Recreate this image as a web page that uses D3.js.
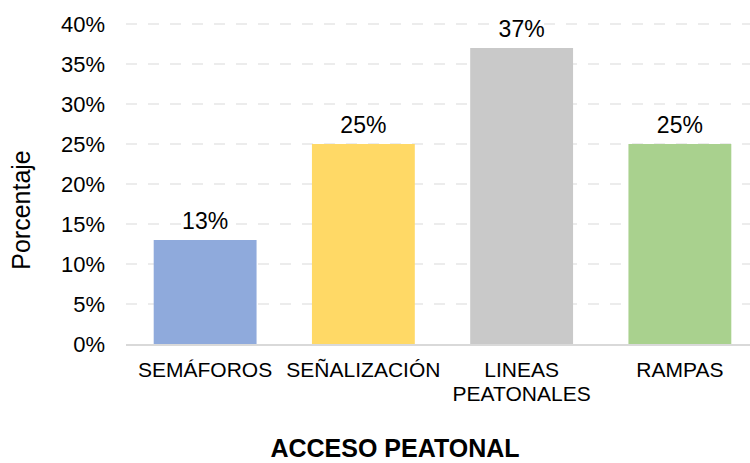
<!DOCTYPE html>
<html>
<head>
<meta charset="utf-8">
<script src="https://cdn.jsdelivr.net/npm/d3@7"></script>
<style>
  body { margin: 0; background: #fff; }
  text { font-family: "Liberation Sans", Arial, sans-serif; fill: #000; }
</style>
</head>
<body>
<script>
const categories = ["SEMÁFOROS", "SEÑALIZACIÓN", "LINEAS PEATONALES", "RAMPAS"];
const labelLines = [["SEMÁFOROS"], ["SEÑALIZACIÓN"], ["LINEAS", "PEATONALES"], ["RAMPAS"]];
const values = [13, 25, 37, 25];
const colors = ["#8faadc", "#ffd966", "#c9c9c9", "#a9d18e"];
const yTicks = [0, 5, 10, 15, 20, 25, 30, 35, 40];

const w = 750;
const h = 463;

const svg = d3.select("body")
  .append("svg")
  .attr("width", w)
  .attr("height", h);

const xScale = d3.scaleBand()
  .domain(categories)
  .range([126, 759])
  .paddingInner(0.35)
  .paddingOuter(0.175);

const yScale = d3.scaleLinear()
  .domain([0, 40])
  .range([344, 24]);

// gridlines
svg.append("g")
  .selectAll("line")
  .data(yTicks.filter(d => d > 0))
  .enter()
  .append("line")
  .attr("x1", 126)
  .attr("x2", w)
  .attr("y1", d => yScale(d))
  .attr("y2", d => yScale(d))
  .attr("stroke", "#e6e6e6")
  .attr("stroke-width", 1.5)
  .attr("stroke-dasharray", "11,11");

// y axis labels
const yAxis = d3.axisLeft(yScale)
  .tickValues(yTicks)
  .tickFormat(d => d + "%")
  .tickSize(0)
  .tickPadding(0);

const yg = svg.append("g")
  .attr("transform", "translate(105,0)")
  .call(yAxis);
yg.select(".domain").remove();
yg.selectAll("text")
  .attr("font-size", 22)
  .attr("dy", "0.35em");

// bars
svg.selectAll(".bar")
  .data(values)
  .enter()
  .append("rect")
  .attr("class", "bar")
  .attr("x", (d, i) => xScale(categories[i]))
  .attr("y", d => yScale(d))
  .attr("width", xScale.bandwidth())
  .attr("height", d => yScale(0) - yScale(d))
  .attr("fill", (d, i) => colors[i]);

// value labels
svg.selectAll(".val")
  .data(values)
  .enter()
  .append("text")
  .attr("class", "val")
  .attr("x", (d, i) => xScale(categories[i]) + xScale.bandwidth() / 2)
  .attr("y", d => yScale(d) - 11)
  .attr("text-anchor", "middle")
  .attr("font-size", 23)
  .text(d => d + "%");

// x axis line
svg.append("line")
  .attr("x1", 126)
  .attr("x2", w)
  .attr("y1", yScale(0) + 1)
  .attr("y2", yScale(0) + 1)
  .attr("stroke", "#d9d9d9")
  .attr("stroke-width", 2);

// category labels
const cat = svg.selectAll(".cat")
  .data(labelLines)
  .enter()
  .append("text")
  .attr("class", "cat")
  .attr("text-anchor", "middle")
  .attr("font-size", 21)
  .attr("transform", (d, i) => "translate(" + (xScale(categories[i]) + xScale.bandwidth() / 2) + ",377)");
cat.selectAll("tspan")
  .data(d => d)
  .enter()
  .append("tspan")
  .attr("x", 0)
  .attr("dy", (d, i) => i === 0 ? 0 : 24)
  .text(d => d);

// axis titles
svg.append("text")
  .attr("transform", "translate(30,210) rotate(-90)")
  .attr("text-anchor", "middle")
  .attr("font-size", 25)
  .text("Porcentaje");

svg.append("text")
  .attr("x", 395)
  .attr("y", 457)
  .attr("text-anchor", "middle")
  .attr("font-size", 25)
  .attr("font-weight", "bold")
  .text("ACCESO PEATONAL");
</script>
</body>
</html>
